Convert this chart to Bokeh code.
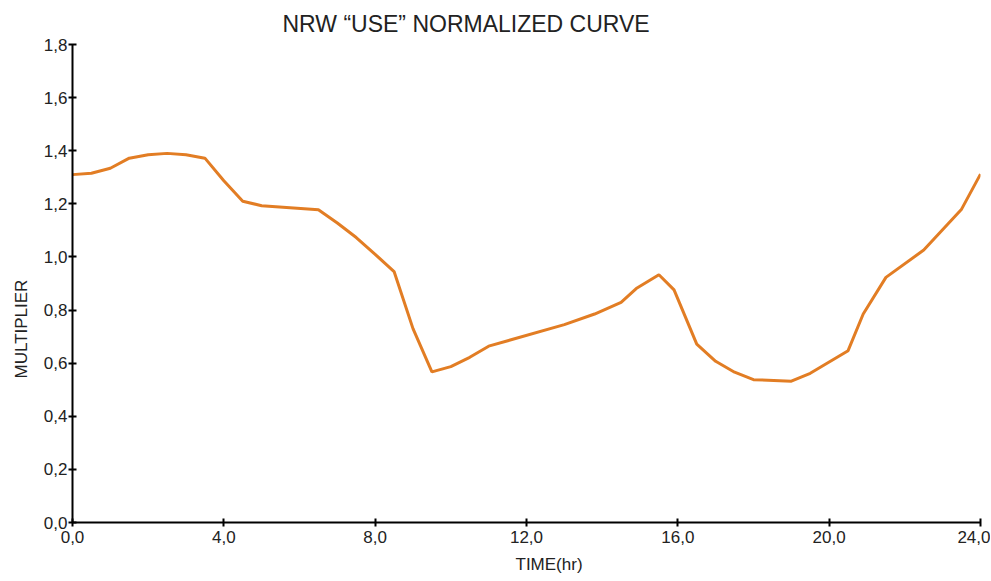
from bokeh.plotting import figure
from bokeh.models import Range1d, FixedTicker, Title
from bokeh.embed import file_html
from bokeh.resources import INLINE

# ---- data ----
hours = [0.0, 0.5, 1.0, 1.5, 2.0, 2.5, 3.0, 3.5, 4.0, 4.5, 5.0, 6.5, 7.0, 7.5,
         8.0, 8.5, 9.0, 9.5, 10.0, 10.5, 11.0, 13.0, 13.8, 14.5, 14.9, 15.5,
         15.9, 16.5, 17.0, 17.5, 18.0, 19.0, 19.5, 20.5, 20.9, 21.5, 22.5,
         23.5, 24.0]
multiplier = [1.31, 1.315, 1.334, 1.372, 1.385, 1.39, 1.385, 1.372, 1.287,
              1.21, 1.193, 1.178, 1.128, 1.073, 1.01, 0.945, 0.73, 0.567,
              0.587, 0.622, 0.664, 0.745, 0.785, 0.829, 0.881, 0.933, 0.876,
              0.672, 0.607, 0.566, 0.538, 0.532, 0.562, 0.647, 0.785, 0.923,
              1.026, 1.18, 1.312]

x_ticks = [0, 4, 8, 12, 16, 20, 24]
x_tick_labels = ["0,0", "4,0", "8,0", "12,0", "16,0", "20,0", "24,0"]
y_ticks = [0.0, 0.2, 0.4, 0.6, 0.8, 1.0, 1.2, 1.4, 1.6, 1.8]
y_tick_labels = ["0,0", "0,2", "0,4", "0,6", "0,8", "1,0", "1,2", "1,4", "1,6", "1,8"]

title_text = "NRW \u201cUSE\u201d NORMALIZED CURVE"
x_label = "TIME(hr)"
y_label = "MULTIPLIER"

FONT = "Liberation Sans"
TXT = "#222222"

p = figure(width=990, height=580, output_backend="svg", toolbar_location=None,
           x_range=Range1d(0, 24), y_range=Range1d(0, 1.8),
           min_border_left=72, min_border_right=10, min_border_top=44,
           min_border_bottom=58)
p.outline_line_color = None
p.xgrid.visible = False
p.ygrid.visible = False
p.background_fill_color = "white"
p.border_fill_color = "white"

p.line(hours, multiplier, line_color="#E27D24", line_width=3)

for ax in (p.xaxis[0], p.yaxis[0]):
    ax.axis_line_color = "black"
    ax.axis_line_width = 2
    ax.major_tick_line_color = "black"
    ax.major_tick_line_width = 2
    ax.major_tick_out = 4
    ax.major_tick_in = 4
    ax.minor_tick_line_color = None
    ax.major_label_text_font = FONT
    ax.major_label_text_font_size = "17px"
    ax.major_label_text_color = TXT

p.xaxis[0].ticker = FixedTicker(ticks=x_ticks)
p.xaxis[0].major_label_overrides = dict(zip(x_ticks, x_tick_labels))
p.xaxis[0].major_label_standoff = 4
p.yaxis[0].ticker = FixedTicker(ticks=y_ticks)
p.yaxis[0].major_label_overrides = dict(zip(y_ticks, y_tick_labels))
p.yaxis[0].major_label_standoff = 1

p.title.text = title_text
p.title.text_font = FONT
p.title.text_font_size = "23px"
p.title.text_font_style = "normal"
p.title.text_color = TXT
p.title.align = "left"
p.title.offset = 210
p.title.standoff = 16

p.add_layout(Title(text=x_label, text_font=FONT, text_font_size="17px",
                   text_font_style="normal", text_color=TXT,
                   align="left", offset=443, standoff=14), "below")
p.add_layout(Title(text=y_label, text_font=FONT, text_font_size="17px",
                   text_font_style="normal", text_color=TXT,
                   align="left", offset=144, standoff=19), "left")

open("out.html", "w").write(file_html(p, INLINE))
